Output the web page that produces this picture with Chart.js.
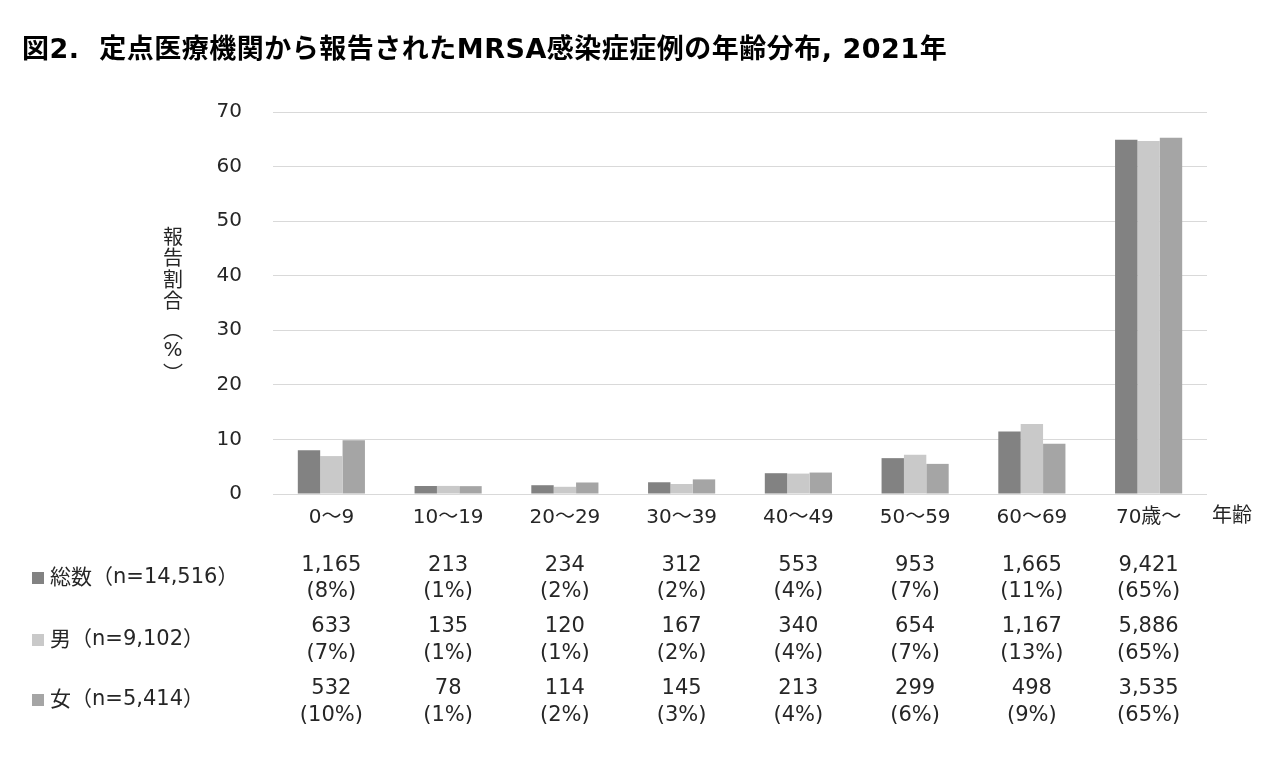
<!DOCTYPE html>
<html><head><meta charset="utf-8">
<script src="https://cdn.jsdelivr.net/npm/chart.js@4"></script>
<style>
body{margin:0;background:#fff;width:1280px;height:760px;overflow:hidden;position:relative;font-family:"DejaVu Sans","Noto Sans CJK JP",sans-serif;}
#title{position:absolute;left:22px;top:31px;font-size:27px;font-weight:bold;color:#000;white-space:pre;line-height:36px;letter-spacing:0.5px;}
canvas{position:absolute;left:0;top:0;}
</style></head><body>
<canvas id="c" width="1280" height="760"></canvas>
<div id="title">図2.  定点医療機関から報告されたMRSA感染症症例の年齢分布, 2021年</div>
<script>
const categories = ["0～9","10～19","20～29","30～39","40～49","50～59","60～69","70歳～"];
const seriesNames = ["総数（n=14,516）","男（n=9,102）","女（n=5,414）"];
const totalPct  = [8.03, 1.47, 1.61, 2.15, 3.81, 6.57, 11.47, 64.90];
const malePct   = [6.95, 1.48, 1.32, 1.83, 3.74, 7.19, 12.82, 64.67];
const femalePct = [9.83, 1.44, 2.11, 2.68, 3.93, 5.52, 9.20, 65.29];
const totalCount  = ["1,165","213","234","312","553","953","1,665","9,421"];
const totalShare  = ["(8%)","(1%)","(2%)","(2%)","(4%)","(7%)","(11%)","(65%)"];
const maleCount   = ["633","135","120","167","340","654","1,167","5,886"];
const maleShare   = ["(7%)","(1%)","(1%)","(2%)","(4%)","(7%)","(13%)","(65%)"];
const femaleCount = ["532","78","114","145","213","299","498","3,535"];
const femaleShare = ["(10%)","(1%)","(2%)","(3%)","(4%)","(6%)","(9%)","(65%)"];
const yMin = 0, yMax = 70, yStep = 10;
const xAxisName = "年齢";
const yAxisName = "報告割合（%）";

const colors = ["#828282","#c9c9c9","#a5a5a5"];
const FONT = '"DejaVu Sans","Noto Sans CJK JP",sans-serif';
const CJK = '"Noto Sans CJK JP",sans-serif';
const TEXT = '#262626';

const tablePlugin = {
  id: 'table',
  afterDraw(chart) {
    const ctx = chart.ctx, xs = chart.scales.x;
    const rows = [
      {counts: totalCount, shares: totalShare},
      {counts: maleCount, shares: maleShare},
      {counts: femaleCount, shares: femaleShare}
    ];
    const lineY = [[566,592],[627,654],[689,716]];
    const labelY = [578,640,700];
    ctx.save();
    ctx.fillStyle = TEXT;
    ctx.textBaseline = 'middle';
    // x axis name
    ctx.font = '20px ' + CJK;
    ctx.textAlign = 'left';
    ctx.fillText(xAxisName, 1212, 514);
    // y axis name, vertical
    ctx.textAlign = 'center';
    let yy = 236;
    for (const ch of yAxisName) {
      if (ch === '（') {
        yy += 8;
        ctx.font = '20px ' + CJK;
        ctx.fillText('︵', 173, yy);
        yy += 21;
      } else if (ch === '）') {
        ctx.font = '20px ' + CJK;
        ctx.fillText('︶', 173, yy);
        yy += 20;
      } else if (ch === '%') {
        ctx.font = '20px ' + FONT;
        ctx.fillText(ch, 173, yy);
        yy += 22;
      } else {
        ctx.font = '20px ' + CJK;
        ctx.fillText(ch, 173, yy);
        yy += 21.5;
      }
    }
    rows.forEach((r, i) => {
      ctx.fillStyle = colors[i];
      ctx.fillRect(32, labelY[i] - 6, 12, 12);
      ctx.fillStyle = TEXT;
      ctx.textAlign = 'left';
      ctx.font = '21px ' + CJK;
      const nm = seriesNames[i];
      const k = nm.indexOf('（');
      const head = nm.slice(0, k);
      ctx.fillText(head, 50, labelY[i] - 2);
      let x = 50 + ctx.measureText(head).width;
      ctx.fillText('（', x, labelY[i] - 2);
      x += ctx.measureText('（').width;
      ctx.font = '21px ' + FONT;
      const mid = nm.slice(k + 1, nm.length - 1);
      ctx.fillText(mid, x, labelY[i]);
      x += ctx.measureText(mid).width;
      ctx.font = '21px ' + CJK;
      ctx.fillText('）', x, labelY[i] - 2);
      ctx.font = '21px ' + FONT;
      ctx.textAlign = 'center';
      categories.forEach((c, j) => {
        const cx = xs.getPixelForValue(j);
        ctx.fillText(r.counts[j], cx, lineY[i][0]);
        ctx.fillText(r.shares[j], cx, lineY[i][1]);
      });
    });
    ctx.restore();
  }
};

new Chart(document.getElementById('c'), {
  type: 'bar',
  data: {
    labels: categories,
    datasets: [
      {label: seriesNames[0], data: totalPct, backgroundColor: colors[0]},
      {label: seriesNames[1], data: malePct, backgroundColor: colors[1]},
      {label: seriesNames[2], data: femalePct, backgroundColor: colors[2]}
    ]
  },
  options: {
    responsive: false,
    animation: false,
    devicePixelRatio: 1,
    layout: {padding: {left: 0, top: 112, right: 73, bottom: 0}},
    datasets: {bar: {categoryPercentage: 0.575, barPercentage: 1.0}},
    plugins: {legend: {display: false}, tooltip: {enabled: false}, title: {display: false}},
    scales: {
      x: {
        grid: {display: false},
        border: {display: false},
        ticks: {color: TEXT, font: {family: FONT, size: 20}, padding: 4, maxRotation: 0, autoSkip: false},
        afterFit(s) { s.height = 266; }
      },
      y: {
        min: yMin, max: yMax,
        grid: {color: '#d9d9d9', lineWidth: 1, drawTicks: false},
        border: {display: false},
        ticks: {stepSize: yStep, color: TEXT, font: {family: FONT, size: 20}, padding: 31},
        afterFit(s) { s.width = 273; }
      }
    }
  },
  plugins: [tablePlugin]
});
</script>
</body></html>
